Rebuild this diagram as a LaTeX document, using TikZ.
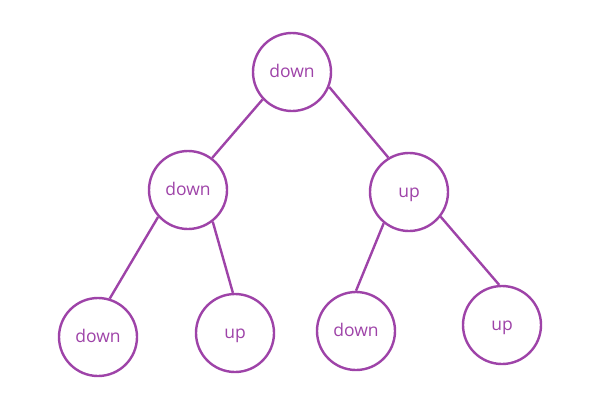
\documentclass[tikz,border=0pt]{standalone}
\usepackage{fontspec}
\setmainfont{Open Sans}
\definecolor{purp}{HTML}{9E43A8}
\begin{document}
\begin{tikzpicture}[x=1pt,y=-1pt,
  tnode/.style={circle,draw=purp,line width=2.4pt,minimum size=78pt,inner sep=0pt,
    text=purp,font=\fontsize{17.5}{20}\selectfont,text height=10pt,text depth=0pt},
  edge/.style={draw=purp,line width=2.4pt}]
\useasboundingbox (0,0) rectangle (593,405);
\node[tnode] (r) at (292,72) {down};
\node[tnode] (l) at (188,190) {down};
\node[tnode] (u) at (409,192) {up};
\node[tnode] (ll) at (98,337) {down};
\node[tnode] (lu) at (235,333) {up};
\node[tnode] (ud) at (356,331) {down};
\node[tnode] (uu) at (502,325) {up};
\draw[edge] (r.-137) -- (l.53);
\draw[edge] (r.-22) -- (u.121);
\draw[edge] (l.-138) -- (ll.73);
\draw[edge] (l.-52) -- (lu.93);
\draw[edge] (u.-129) -- (ud.90);
\draw[edge] (u.-38) -- (uu.94);
\end{tikzpicture}
\end{document}
